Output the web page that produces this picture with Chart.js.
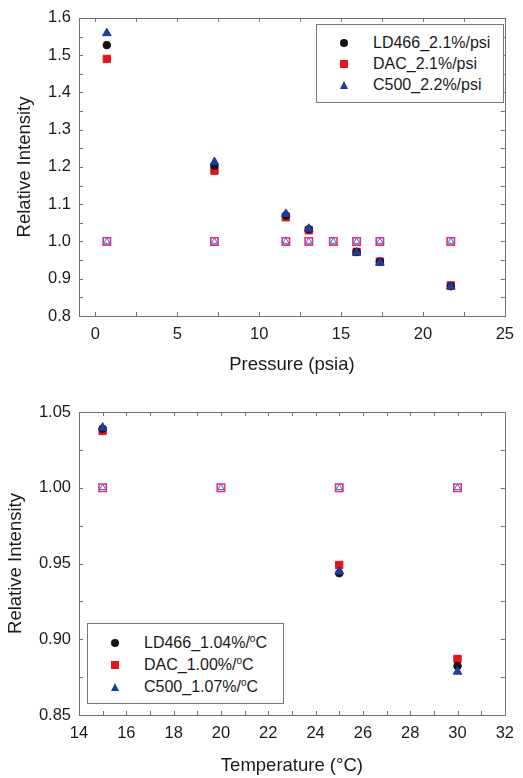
<!DOCTYPE html>
<html>
<head>
<meta charset="utf-8">
<script src="https://cdn.jsdelivr.net/npm/chart.js@4.4.1/dist/chart.umd.min.js"></script>
<style>
  body{margin:0;background:#fff;font-family:"Liberation Sans",Arial,sans-serif;}
  .wrap{position:absolute;left:0;width:523px;}
  .legend{position:absolute;border:1px solid #777;box-sizing:border-box;background:#fff;color:#1a1a1a;font-size:16px;}
  .row{position:absolute;left:0;height:20px;line-height:20px;white-space:nowrap;}
  .row .mk{position:absolute;left:23px;top:6px;}
  .row .tx{position:absolute;left:56px;}
  .circ{width:8px;height:8px;border-radius:50%;background:#1a1212;}
  .sq{width:8px;height:8px;background:#e3141e;}
  .tri{width:0;height:0;border-left:4.5px solid transparent;border-right:4.5px solid transparent;border-bottom:8px solid #1d3c9c;}
  sup{font-size:10px;vertical-align:6px;line-height:0;}
</style>
</head>
<body>
<div class="wrap" style="top:0;height:390px;"><canvas id="chartPressure" width="523" height="390"></canvas>
  <div class="legend" style="left:316px;top:24px;width:188px;height:79px;">
    <div class="row" style="top:8px"><span class="mk circ"></span><span class="tx">LD466_2.1%/psi</span></div>
    <div class="row" style="top:29px"><span class="mk sq"></span><span class="tx">DAC_2.1%/psi</span></div>
    <div class="row" style="top:50px"><span class="mk tri"></span><span class="tx">C500_2.2%/psi</span></div>
  </div>
</div>
<div class="wrap" style="top:390px;height:388px;"><canvas id="chartTemp" width="523" height="388"></canvas>
  <div class="legend" style="left:87px;top:233px;width:197px;height:81px;">
    <div class="row" style="top:9px"><span class="mk circ"></span><span class="tx">LD466_1.04%/<sup>o</sup>C</span></div>
    <div class="row" style="top:31px"><span class="mk sq"></span><span class="tx">DAC_1.00%/<sup>o</sup>C</span></div>
    <div class="row" style="top:53px"><span class="mk tri"></span><span class="tx">C500_1.07%/<sup>o</sup>C</span></div>
  </div>
</div>
<script>
// pressure chart data
const pressure = [0.7, 7.27, 11.63, 13.03, 15.95, 17.37, 21.7];
const ld466P = [1.527, 1.203, 1.070, 1.033, 0.972, 0.946, 0.880];
const dacP   = [1.490, 1.190, 1.065, 1.030, 0.972, 0.946, 0.882];
const c500P  = [1.559, 1.213, 1.074, 1.034, 0.970, 0.943, 0.879];
const refPressure = [0.7, 7.27, 11.63, 13.03, 14.53, 15.95, 17.37, 21.7];
const refValueP   = [1, 1, 1, 1, 1, 1, 1, 1];
const pressureTicks = [0, 5, 10, 15, 20, 25];
const pressureMinor = [0, 2.5, 5, 7.5, 10, 12.5, 15, 17.5, 20, 22.5, 25];
const intensityTicksP = [0.8, 0.9, 1.0, 1.1, 1.2, 1.3, 1.4, 1.5, 1.6];
const intensityMinorP = [0.8, 0.85, 0.9, 0.95, 1.0, 1.05, 1.1, 1.15, 1.2, 1.25, 1.3, 1.35, 1.4, 1.45, 1.5, 1.55, 1.6];

// temperature chart data
const temperature = [15, 25, 30];
const ld466T = [1.039, 0.9436, 0.8823];
const dacT   = [1.0375, 0.949, 0.887];
const c500T  = [1.0397, 0.9447, 0.8786];
const refTemperature = [15, 20, 25, 30];
const refValueT      = [1, 1, 1, 1];
const tempTicks = [14, 16, 18, 20, 22, 24, 26, 28, 30, 32];
const tempMinor = [14, 15, 16, 17, 18, 19, 20, 21, 22, 23, 24, 25, 26, 27, 28, 29, 30, 31, 32];
const intensityTicksT = [0.85, 0.90, 0.95, 1.00, 1.05];
const intensityMinorT = [0.85, 0.875, 0.9, 0.925, 0.95, 0.975, 1.0, 1.025, 1.05];

const FONT = '"Liberation Sans", Arial, sans-serif';
const BLACK = '#1a1212', RED = '#e3141e', BLUE = '#1d3c9c';

const pts = (xs, ys) => xs.map((x, i) => ({x: x, y: ys[i]}));

function makeSets(xs, a, b, c, rx, ry){
    return [
        {label:'C500', data:pts(xs,c), pointStyle:'triangle', pointRadius:5, backgroundColor:BLUE, borderColor:BLUE, borderWidth:1, order:0},
        {label:'LD466', data:pts(xs,a), pointStyle:'circle', pointRadius:3.8, backgroundColor:BLACK, borderColor:BLACK, borderWidth:1, order:1},
        {label:'DAC', data:pts(xs,b), pointStyle:'rect', pointRadius:5.2, backgroundColor:RED, borderColor:RED, borderWidth:1, order:2},
        {label:'ref tri', data:pts(rx,ry), pointStyle:'triangle', pointRadius:3.6, backgroundColor:'#fff', borderColor:'#3a6ad0', borderWidth:1, order:3},
        {label:'ref sq', data:pts(rx,ry), pointStyle:'rect', pointRadius:5.2, backgroundColor:'#fff', borderColor:'#e0307a', borderWidth:1.6, order:4}
    ];
}

// frame + inward ticks on all four sides
const frameTicks = {
    id:'frameTicks',
    afterDraw(chart, args, o){
        const {ctx, chartArea:a, scales:{x, y}} = chart;
        ctx.save();
        ctx.strokeStyle = '#707070';
        ctx.lineWidth = 1;
        ctx.strokeRect(Math.round(a.left)+0.5, Math.round(a.top)+0.5, Math.round(a.right-a.left), Math.round(a.bottom-a.top));
        ctx.beginPath();
        o.xMinor.forEach(v => {
            const px = Math.round(x.getPixelForValue(v))+0.5;
            ctx.moveTo(px, a.bottom); ctx.lineTo(px, a.bottom-4);
            ctx.moveTo(px, a.top); ctx.lineTo(px, a.top+4);
        });
        o.yMinor.forEach(v => {
            const py = Math.round(y.getPixelForValue(v))+0.5;
            ctx.moveTo(a.left, py); ctx.lineTo(a.left+4, py);
            ctx.moveTo(a.right, py); ctx.lineTo(a.right-4, py);
        });
        ctx.stroke();
        ctx.restore();
    }
};

function makeChart(id, sets, cfg){
    return new Chart(document.getElementById(id), {
        type:'scatter',
        data:{datasets:sets},
        plugins:[frameTicks],
        options:{
            responsive:false,
            animation:false,
            layout:{padding:{top:cfg.top, right:10, left:0, bottom:0}},
            plugins:{legend:{display:false}, tooltip:{enabled:false}, frameTicks:{xMinor:cfg.xMinor, yMinor:cfg.yMinor}},
            scales:{
                x:{
                    type:'linear', min:cfg.xMin, max:cfg.xMax,
                    afterBuildTicks:s => { s.ticks = cfg.xTicks.map(v => ({value:v})); },
                    afterFit:s => { s.height = cfg.xH; },
                    grid:{display:false, drawTicks:false}, border:{display:false},
                    ticks:{padding:9, color:'#1a1a1a', font:{family:FONT, size:16.5}, maxRotation:0, autoSkip:false},
                    title:{display:true, text:cfg.xTitle, color:'#1a1a1a', font:{family:FONT, size:18.5}, padding:{top:0, bottom:cfg.xTitlePad}}
                },
                y:{
                    type:'linear', min:cfg.yMin, max:cfg.yMax,
                    afterBuildTicks:s => { s.ticks = cfg.yTicks.map(v => ({value:v})); },
                    afterFit:s => { s.width = 79; },
                    grid:{display:false, drawTicks:false}, border:{display:false},
                    ticks:{padding:8, color:'#1a1a1a', font:{family:FONT, size:16.5}, autoSkip:false, callback:v => v.toFixed(cfg.dec)},
                    title:{display:true, text:'Relative Intensity', color:'#1a1a1a', font:{family:FONT, size:18.5}, padding:{top:cfg.yTitlePad, bottom:0}}
                }
            }
        }
    });
}

makeChart('chartPressure', makeSets(pressure, ld466P, dacP, c500P, refPressure, refValueP), {
    top:14, xMin:-1, xMax:25, yMin:0.8, yMax:1.6, xTicks:pressureTicks, yTicks:intensityTicksP,
    xMinor:pressureMinor, yMinor:intensityMinorP, xH:74, dec:1,
    xTitle:'Pressure (psia)', xTitlePad:14, yTitlePad:14
});

makeChart('chartTemp', makeSets(temperature, ld466T, dacT, c500T, refTemperature, refValueT), {
    top:22, xMin:14, xMax:32, yMin:0.85, yMax:1.05, xTicks:tempTicks, yTicks:intensityTicksT,
    xMinor:tempMinor, yMinor:intensityMinorT, xH:63, dec:2,
    xTitle:'Temperature (°C)', xTitlePad:1, yTitlePad:5
});
</script>
</body>
</html>
